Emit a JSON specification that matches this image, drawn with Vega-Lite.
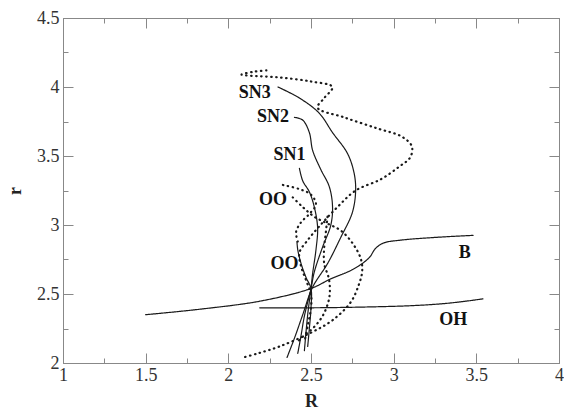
{
 "$schema": "https://vega.github.io/schema/vega-lite/v6.json",
 "width": 496, "height": 345,
 "autosize": {"type": "none"},
 "padding": {"left": 63, "top": 18, "right": 5, "bottom": 48},
 "background": "white",
 "config": {"view": {"stroke": "#888", "strokeWidth": 1}},
 "datasets": {
  "curves": [
   {"c":"SN3","s":"solid","i":0,"R":2.30,"r":4.00},{"c":"SN3","s":"solid","i":1,"R":2.43,"r":3.92},{"c":"SN3","s":"solid","i":2,"R":2.55,"r":3.81},{"c":"SN3","s":"solid","i":3,"R":2.63,"r":3.67},{"c":"SN3","s":"solid","i":4,"R":2.72,"r":3.52},{"c":"SN3","s":"solid","i":5,"R":2.76,"r":3.38},{"c":"SN3","s":"solid","i":6,"R":2.77,"r":3.25},{"c":"SN3","s":"solid","i":7,"R":2.75,"r":3.09},{"c":"SN3","s":"solid","i":8,"R":2.68,"r":2.91},{"c":"SN3","s":"solid","i":9,"R":2.60,"r":2.72},{"c":"SN3","s":"solid","i":10,"R":2.51,"r":2.55},{"c":"SN3","s":"solid","i":11,"R":2.45,"r":2.35},{"c":"SN3","s":"solid","i":12,"R":2.40,"r":2.18},{"c":"SN3","s":"solid","i":13,"R":2.355,"r":2.04},
   {"c":"SN2","s":"solid","i":0,"R":2.40,"r":3.78},{"c":"SN2","s":"solid","i":1,"R":2.45,"r":3.76},{"c":"SN2","s":"solid","i":2,"R":2.49,"r":3.67},{"c":"SN2","s":"solid","i":3,"R":2.51,"r":3.54},{"c":"SN2","s":"solid","i":4,"R":2.56,"r":3.40},{"c":"SN2","s":"solid","i":5,"R":2.61,"r":3.28},{"c":"SN2","s":"solid","i":6,"R":2.63,"r":3.14},{"c":"SN2","s":"solid","i":7,"R":2.62,"r":3.00},{"c":"SN2","s":"solid","i":8,"R":2.57,"r":2.84},{"c":"SN2","s":"solid","i":9,"R":2.52,"r":2.66},{"c":"SN2","s":"solid","i":10,"R":2.50,"r":2.54},{"c":"SN2","s":"solid","i":11,"R":2.46,"r":2.34},{"c":"SN2","s":"solid","i":12,"R":2.44,"r":2.20},{"c":"SN2","s":"solid","i":13,"R":2.42,"r":2.07},
   {"c":"SN1","s":"solid","i":0,"R":2.43,"r":3.41},{"c":"SN1","s":"solid","i":1,"R":2.45,"r":3.32},{"c":"SN1","s":"solid","i":2,"R":2.49,"r":3.24},{"c":"SN1","s":"solid","i":3,"R":2.52,"r":3.13},{"c":"SN1","s":"solid","i":4,"R":2.54,"r":2.98},{"c":"SN1","s":"solid","i":5,"R":2.53,"r":2.82},{"c":"SN1","s":"solid","i":6,"R":2.51,"r":2.65},{"c":"SN1","s":"solid","i":7,"R":2.50,"r":2.54},{"c":"SN1","s":"solid","i":8,"R":2.48,"r":2.35},{"c":"SN1","s":"solid","i":9,"R":2.46,"r":2.09},
   {"c":"OOs","s":"solid","i":0,"R":2.415,"r":2.88},{"c":"OOs","s":"solid","i":1,"R":2.42,"r":2.82},{"c":"OOs","s":"solid","i":2,"R":2.44,"r":2.72},{"c":"OOs","s":"solid","i":3,"R":2.47,"r":2.62},{"c":"OOs","s":"solid","i":4,"R":2.50,"r":2.54},{"c":"OOs","s":"solid","i":5,"R":2.50,"r":2.40},{"c":"OOs","s":"solid","i":6,"R":2.49,"r":2.25},{"c":"OOs","s":"solid","i":7,"R":2.48,"r":2.12},
   {"c":"B","s":"solid","i":0,"R":1.50,"r":2.35},{"c":"B","s":"solid","i":1,"R":1.83,"r":2.39},{"c":"B","s":"solid","i":2,"R":2.20,"r":2.45},{"c":"B","s":"solid","i":3,"R":2.50,"r":2.54},{"c":"B","s":"solid","i":4,"R":2.62,"r":2.61},{"c":"B","s":"solid","i":5,"R":2.74,"r":2.67},{"c":"B","s":"solid","i":6,"R":2.815,"r":2.725},{"c":"B","s":"solid","i":7,"R":2.857,"r":2.77},{"c":"B","s":"solid","i":8,"R":2.89,"r":2.83},{"c":"B","s":"solid","i":9,"R":2.94,"r":2.87},{"c":"B","s":"solid","i":10,"R":3.04,"r":2.89},{"c":"B","s":"solid","i":11,"R":3.25,"r":2.91},{"c":"B","s":"solid","i":12,"R":3.48,"r":2.925},
   {"c":"OH","s":"solid","i":0,"R":2.19,"r":2.40},{"c":"OH","s":"solid","i":1,"R":2.50,"r":2.40},{"c":"OH","s":"solid","i":2,"R":2.80,"r":2.405},{"c":"OH","s":"solid","i":3,"R":3.10,"r":2.415},{"c":"OH","s":"solid","i":4,"R":3.30,"r":2.43},{"c":"OH","s":"solid","i":5,"R":3.45,"r":2.45},{"c":"OH","s":"solid","i":6,"R":3.54,"r":2.465},
   {"c":"D1","s":"dotted","i":0,"R":2.23,"r":4.12},{"c":"D1","s":"dotted","i":1,"R":2.15,"r":4.11},{"c":"D1","s":"dotted","i":2,"R":2.08,"r":4.09},{"c":"D1","s":"dotted","i":3,"R":2.30,"r":4.07},{"c":"D1","s":"dotted","i":4,"R":2.50,"r":4.04},{"c":"D1","s":"dotted","i":5,"R":2.63,"r":4.00},{"c":"D1","s":"dotted","i":6,"R":2.58,"r":3.92},{"c":"D1","s":"dotted","i":7,"R":2.54,"r":3.85},{"c":"D1","s":"dotted","i":8,"R":2.70,"r":3.78},{"c":"D1","s":"dotted","i":9,"R":2.90,"r":3.70},{"c":"D1","s":"dotted","i":10,"R":3.05,"r":3.64},{"c":"D1","s":"dotted","i":11,"R":3.11,"r":3.57},{"c":"D1","s":"dotted","i":12,"R":3.10,"r":3.49},{"c":"D1","s":"dotted","i":13,"R":3.03,"r":3.42},{"c":"D1","s":"dotted","i":14,"R":2.92,"r":3.33},{"c":"D1","s":"dotted","i":15,"R":2.77,"r":3.25},{"c":"D1","s":"dotted","i":16,"R":2.66,"r":3.13},{"c":"D1","s":"dotted","i":17,"R":2.55,"r":2.99},{"c":"D1","s":"dotted","i":18,"R":2.48,"r":2.89},{"c":"D1","s":"dotted","i":19,"R":2.43,"r":2.80},{"c":"D1","s":"dotted","i":20,"R":2.44,"r":2.70},{"c":"D1","s":"dotted","i":21,"R":2.47,"r":2.60},{"c":"D1","s":"dotted","i":22,"R":2.50,"r":2.50},{"c":"D1","s":"dotted","i":23,"R":2.50,"r":2.40},{"c":"D1","s":"dotted","i":24,"R":2.48,"r":2.27},{"c":"D1","s":"dotted","i":25,"R":2.46,"r":2.15},
   {"c":"D2","s":"dotted","i":0,"R":2.33,"r":3.29},{"c":"D2","s":"dotted","i":1,"R":2.43,"r":3.26},{"c":"D2","s":"dotted","i":2,"R":2.50,"r":3.22},{"c":"D2","s":"dotted","i":3,"R":2.53,"r":3.15},{"c":"D2","s":"dotted","i":4,"R":2.49,"r":3.08},{"c":"D2","s":"dotted","i":5,"R":2.44,"r":3.02},{"c":"D2","s":"dotted","i":6,"R":2.41,"r":2.95},{"c":"D2","s":"dotted","i":7,"R":2.42,"r":2.88},
   {"c":"D3","s":"dotted","i":0,"R":2.39,"r":3.20},{"c":"D3","s":"dotted","i":1,"R":2.45,"r":3.13},{"c":"D3","s":"dotted","i":2,"R":2.52,"r":3.06},{"c":"D3","s":"dotted","i":3,"R":2.60,"r":3.01},{"c":"D3","s":"dotted","i":4,"R":2.68,"r":2.96},{"c":"D3","s":"dotted","i":5,"R":2.75,"r":2.87},{"c":"D3","s":"dotted","i":6,"R":2.80,"r":2.76},{"c":"D3","s":"dotted","i":7,"R":2.81,"r":2.67},{"c":"D3","s":"dotted","i":8,"R":2.79,"r":2.57},{"c":"D3","s":"dotted","i":9,"R":2.74,"r":2.44},{"c":"D3","s":"dotted","i":10,"R":2.63,"r":2.31},{"c":"D3","s":"dotted","i":11,"R":2.50,"r":2.22},{"c":"D3","s":"dotted","i":12,"R":2.31,"r":2.12},{"c":"D3","s":"dotted","i":13,"R":2.18,"r":2.07},{"c":"D3","s":"dotted","i":14,"R":2.09,"r":2.04},
   {"c":"D4","s":"dotted","i":0,"R":2.60,"r":3.06},{"c":"D4","s":"dotted","i":1,"R":2.59,"r":2.95},{"c":"D4","s":"dotted","i":2,"R":2.58,"r":2.84},{"c":"D4","s":"dotted","i":3,"R":2.58,"r":2.72},{"c":"D4","s":"dotted","i":4,"R":2.61,"r":2.60},{"c":"D4","s":"dotted","i":5,"R":2.61,"r":2.47},{"c":"D4","s":"dotted","i":6,"R":2.57,"r":2.34},{"c":"D4","s":"dotted","i":7,"R":2.51,"r":2.25},{"c":"D4","s":"dotted","i":8,"R":2.45,"r":2.19},{"c":"D4","s":"dotted","i":9,"R":2.41,"r":2.14}
  ],
  "labels": [
   {"label":"SN3","R":2.16,"r":3.96},
   {"label":"SN2","R":2.27,"r":3.78},
   {"label":"SN1","R":2.37,"r":3.51},
   {"label":"OO","R":2.27,"r":3.18},
   {"label":"OO","R":2.34,"r":2.72},
   {"label":"B","R":3.43,"r":2.80},
   {"label":"OH","R":3.36,"r":2.31}
  ]
 },
 "layer": [
  {
   "data": {"name": "curves"},
   "mark": {"type": "line", "interpolate": "catmull-rom", "color": "#1a1a1a", "strokeCap": "round"},
   "encoding": {
    "x": {"field": "R", "type": "quantitative", "scale": {"domain": [1, 4], "nice": false, "zero": false},
     "axis": {"orient": "bottom", "values": [1,1.25,1.5,1.75,2,2.25,2.5,2.75,3,3.25,3.5,3.75,4],
      "labelExpr": "datum.value % 0.5 == 0 ? '' + datum.value : ''", "labelFlush": false, "labelOverlap": false,
      "tickSize": {"condition": {"test": "datum.value % 0.5 == 0", "value": -10}, "value": -5},
      "grid": false, "domain": true, "domainColor": "#888", "tickColor": "#888", "tickWidth": 1,
      "labelFont": "Liberation Serif", "labelFontSize": 18, "labelColor": "#333", "labelPadding": 13,
      "title": "R", "titleFont": "Liberation Serif", "titleFontWeight": "bold", "titleFontSize": 18, "titleColor": "#222", "titlePadding": 3}},
    "y": {"field": "r", "type": "quantitative", "scale": {"domain": [2, 4.5], "nice": false, "zero": false},
     "axis": {"orient": "left", "values": [2,2.25,2.5,2.75,3,3.25,3.5,3.75,4,4.25,4.5],
      "labelExpr": "datum.value % 0.5 == 0 ? '' + datum.value : ''", "labelFlush": false, "labelOverlap": false,
      "tickSize": {"condition": {"test": "datum.value % 0.5 == 0", "value": -10}, "value": -5},
      "grid": false, "domain": true, "domainColor": "#888", "tickColor": "#888", "tickWidth": 1,
      "labelFont": "Liberation Serif", "labelFontSize": 18, "labelColor": "#333", "labelPadding": 14,
      "title": "r", "titleFont": "Liberation Serif", "titleFontWeight": "bold", "titleFontSize": 18, "titleColor": "#222", "titlePadding": 12}},
    "detail": {"field": "c", "type": "nominal"},
    "order": {"field": "i", "type": "quantitative"},
    "strokeDash": {"field": "s", "type": "nominal", "scale": {"domain": ["solid", "dotted"], "range": [[1, 0], [0.5, 4.5]]}, "legend": null},
    "strokeWidth": {"field": "s", "type": "nominal", "scale": {"domain": ["solid", "dotted"], "range": [1.2, 2.2]}, "legend": null}
   }
  },
  {
   "data": {"name": "curves"},
   "mark": {"type": "line", "opacity": 0},
   "encoding": {
    "x": {"field": "R", "type": "quantitative",
     "axis": {"orient": "top", "values": [1,1.25,1.5,1.75,2,2.25,2.5,2.75,3,3.25,3.5,3.75,4], "labels": false, "title": null,
      "tickSize": {"condition": {"test": "datum.value % 0.5 == 0", "value": -10}, "value": -5},
      "grid": false, "domain": true, "domainColor": "#888", "tickColor": "#888"}},
    "y": {"field": "r", "type": "quantitative",
     "axis": {"orient": "right", "values": [2,2.25,2.5,2.75,3,3.25,3.5,3.75,4,4.25,4.5], "labels": false, "title": null,
      "tickSize": {"condition": {"test": "datum.value % 0.5 == 0", "value": -10}, "value": -5},
      "grid": false, "domain": true, "domainColor": "#888", "tickColor": "#888"}},
    "detail": {"field": "c", "type": "nominal"},
    "order": {"field": "i", "type": "quantitative"}
   }
  },
  {
   "data": {"name": "labels"},
   "mark": {"type": "text", "font": "Liberation Serif", "fontWeight": "bold", "fontSize": 18, "color": "#111", "align": "center", "baseline": "middle"},
   "encoding": {
    "x": {"field": "R", "type": "quantitative", "axis": null},
    "y": {"field": "r", "type": "quantitative", "axis": null},
    "text": {"field": "label", "type": "nominal"}
   }
  }
 ],
 "resolve": {"axis": {"x": "independent", "y": "independent"}}
}
